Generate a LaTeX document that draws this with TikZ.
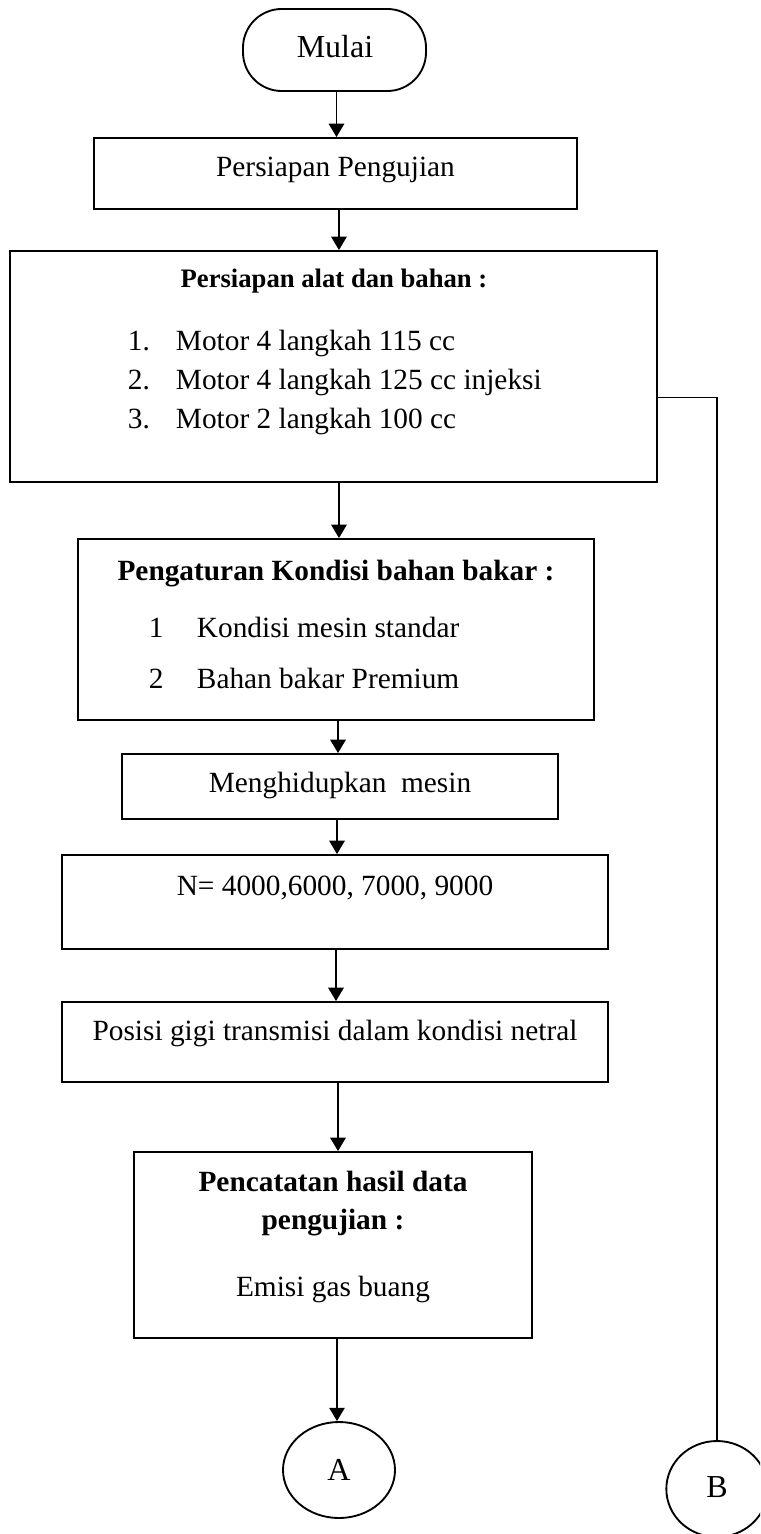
\documentclass[tikz,border=0pt]{standalone}
\usepackage{fontspec}
\setmainfont{Liberation Serif}
\usetikzlibrary{arrows.meta,fit,shapes.geometric}

\begin{document}
\begin{tikzpicture}[x=0.75pt,y=-0.75pt,
  line width=1.4pt,
  box/.style={draw, rectangle, inner sep=0pt},
  term/.style={draw, rectangle, rounded corners=29pt, inner sep=0pt},
  conn/.style={draw, ellipse, inner sep=0pt, minimum height=72pt},
  txt/.style={inner sep=0pt, anchor=base, font=\fontsize{22}{26}\selectfont},
  big/.style={inner sep=0pt, anchor=base, font=\fontsize{24}{28}\selectfont},
  ttl/.style={inner sep=0pt, anchor=base, font=\fontsize{22}{26}\selectfont\bfseries},
  ttlsm/.style={inner sep=0pt, anchor=base, font=\fontsize{20}{24}\selectfont\bfseries},
  num/.style={txt, anchor=base west},
  arr/.style={-{Triangle[width=11.5pt,length=10pt]}}]

\clip (0,0) rectangle (760,1534);
\fill[white] (0,0) rectangle (760,1534);

% process boxes
\node[term, fit={(243,9) (426,91)}] (mulai) {};
\node[box, fit={(94,138) (577,209)}] (b2) {};
\node[box, fit={(10,251) (657,482)}] (b3) {};
\node[box, fit={(78,539) (594,720)}] (b4) {};
\node[box, fit={(122,754) (558,819)}] (b5) {};
\node[box, fit={(62,855) (608,949)}] (b6) {};
\node[box, fit={(62,1002) (608,1082)}] (b7) {};
\node[box, fit={(134,1152) (532,1338)}] (b8) {};

% off-page connectors
\node[conn, minimum width=84pt] (A) at (339,1470) {};
\node[conn, minimum width=76pt] (B) at (717,1489) {};

% texts
\node[big] (tmulai) at (335,58) {Mulai};
\node[txt] (t2) at (335.5,176) {Persiapan Pengujian};

\node[ttlsm] (t3) at (334,287) {Persiapan alat dan bahan :};
\node[num] (n31) at (127,350) {1.};
\node[num] (i31) at (175,350) {Motor 4 langkah 115 cc};
\node[num] (n32) at (127,389) {2.};
\node[num] (i32) at (175,389) {Motor 4 langkah 125 cc injeksi};
\node[num] (n33) at (127,428) {3.};
\node[num] (i33) at (175,428) {Motor 2 langkah 100 cc};

\node[ttl] (t4) at (336,580) {Pengaturan Kondisi bahan bakar :};
\node[num] (n41) at (148,637) {1};
\node[num] (i41) at (196,637) {Kondisi mesin standar};
\node[num] (n42) at (148,688) {2};
\node[num] (i42) at (196,688) {Bahan bakar Premium};

\node[txt] (t5) at (340,792) {Menghidupkan\ \ mesin};
\node[txt] (t6) at (335,895) {N= 4000,6000, 7000, 9000};
\node[txt] (t7) at (335,1040) {Posisi gigi transmisi dalam kondisi netral};

\node[ttl] (t8a) at (333,1191) {Pencatatan hasil data};
\node[ttl] (t8b) at (333,1229) {pengujian :};
\node[txt] (t8c) at (333,1296) {Emisi gas buang};

\node[big] (tA) at (339,1480) {A};
\node[big] (tB) at (717,1497) {B};

% flow arrows
\draw[arr] ([xshift=1.5pt]mulai.south) coordinate (s1) -- (s1 |- b2.north);
\draw[arr] ([xshift=2.6pt]b2.south) coordinate (s2) -- (s2 |- b3.north);
\draw[arr] ([xshift=4.1pt]b3.south) coordinate (s3) -- (s3 |- b4.north);
\draw[arr] ([xshift=1.5pt]b4.south) coordinate (s4) -- (s4 |- b5.north);
\draw[arr] ([xshift=-2.25pt]b5.south) coordinate (s5) -- (s5 |- b6.north);
\draw[arr] ([xshift=0.75pt]b6.south) coordinate (s6) -- (s6 |- b7.north);
\draw[arr] ([xshift=2.25pt]b7.south) coordinate (s7) -- (s7 |- b8.north);
\draw[arr] ([xshift=3pt]b8.south) coordinate (s8) -- (s8 |- A.north);

% line to connector B
\draw ([yshift=-23.25pt]b3.east) -| (B.north);
\end{tikzpicture}
\end{document}
